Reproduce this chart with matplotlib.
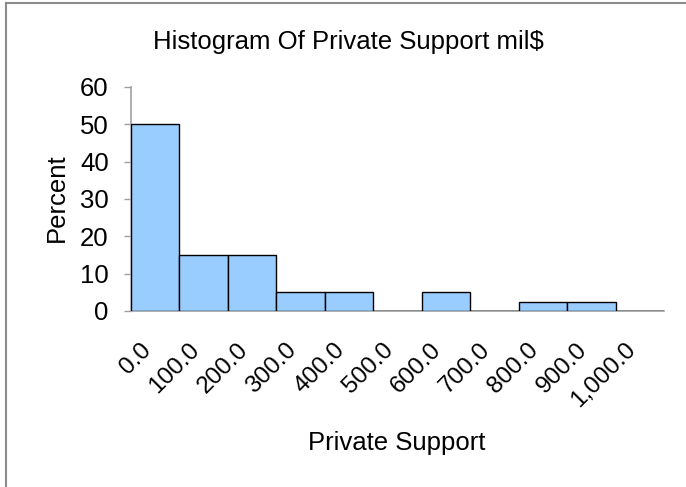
import matplotlib
matplotlib.use("Agg")
import matplotlib.pyplot as plt
from matplotlib.lines import Line2D

categories = ["0.0", "100.0", "200.0", "300.0", "400.0", "500.0", "600.0",
              "700.0", "800.0", "900.0", "1,000.0"]
percent = [50, 15, 15, 5, 5, 0, 5, 0, 2.5, 2.5, 0]
yticks = [0, 10, 20, 30, 40, 50, 60]

plt.rcParams['font.family'] = ['Liberation Sans', 'DejaVu Sans']
FS = 18.5

W, H = 686, 487
fig = plt.figure(figsize=(W / 100, H / 100), dpi=100)
ax = fig.add_axes([131 / W, 1 - 311 / H, (664 - 131) / W, (311 - 87) / H])

x = list(range(len(categories)))
ax.bar(x, percent, width=1.0, color="#99CCFF", edgecolor="black", linewidth=1.0, zorder=3)
ax.set_xlim(-0.5, len(categories) - 0.5)
ax.set_ylim(0, 60)
ax.set_yticks(yticks)
ax.set_yticklabels([str(v) for v in yticks], fontsize=FS)
ax.set_xticks(x)
ax.set_xticklabels(categories, rotation=45, ha="right", va="top",
                   rotation_mode="default", fontsize=17.5)
ax.tick_params(axis="x", length=0, pad=20)
ax.tick_params(axis="y", length=5, width=1, color="#A0A0A0", pad=11)

for s in ["top", "right"]:
    ax.spines[s].set_visible(False)
for s in ["left", "bottom"]:
    ax.spines[s].set_color("#A0A0A0")
    ax.spines[s].set_linewidth(1.2)

fig.text(348 / W, 1 - 49 / H, "Histogram Of Private Support mil$", ha="center",
         va="baseline", fontsize=FS)
fig.text(397 / W, 1 - 450 / H, "Private Support", ha="center", va="baseline", fontsize=FS)
fig.text(57 / W, 1 - 198 / H, "Percent", ha="center", va="center", rotation=90, fontsize=FS)

# outer chart-area border (left and top visible)
fig.add_artist(Line2D([6 / W, 6 / W], [0, 1 - 3 / H], transform=fig.transFigure,
                      color="#8C8C8C", linewidth=1.5))
fig.add_artist(Line2D([6 / W, 1], [1 - 3 / H, 1 - 3 / H], transform=fig.transFigure,
                      color="#8C8C8C", linewidth=1.5))

fig.savefig("out.png", dpi=100)
